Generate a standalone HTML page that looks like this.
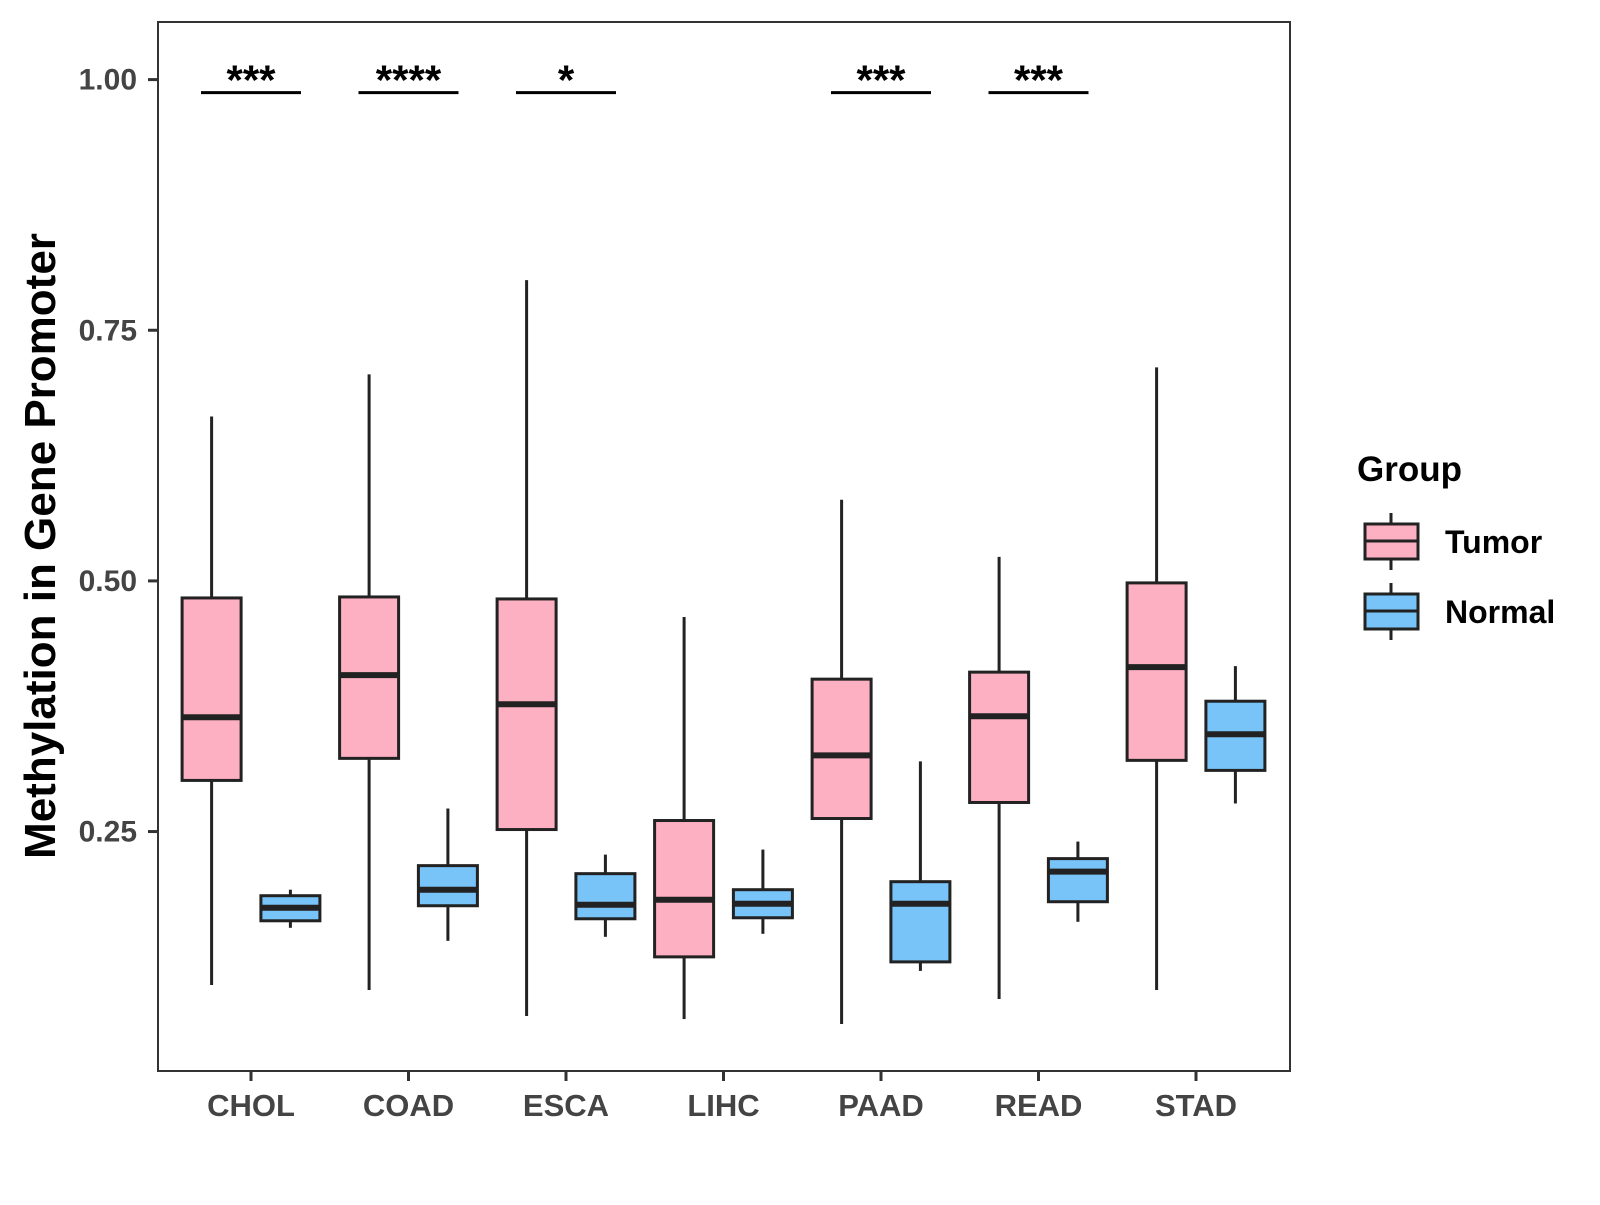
<!DOCTYPE html>
<html><head><meta charset="utf-8"><style>
html,body{margin:0;padding:0;background:#fff;}
svg text{font-family:"Liberation Sans",Arial,sans-serif;font-weight:bold;}
</style></head><body>
<svg id="chart" width="1600" height="1200" xmlns="http://www.w3.org/2000/svg">
<rect x="0" y="0" width="1600" height="1200" fill="#fff"/>
<g id="marks"></g>
<rect x="158" y="22" width="1132" height="1049" fill="none" stroke="#333" stroke-width="2"/>
<g id="axes"></g>
<text x="55" y="546" font-size="44" fill="#000" text-anchor="middle" transform="rotate(-90 55 546)">Methylation in Gene Promoter</text>
<g>
<text x="1357" y="481" font-size="35" fill="#000">Group</text>
<g>
<line x1="1391" y1="513" x2="1391" y2="570" stroke="#222" stroke-width="3"/>
<rect x="1365" y="524" width="53" height="35" fill="#FDB0C2" stroke="#222" stroke-width="3"/>
<line x1="1365" y1="541" x2="1418" y2="541" stroke="#222" stroke-width="3"/>
<text x="1445" y="553" font-size="32" fill="#000">Tumor</text>
</g>
<g>
<line x1="1391" y1="583" x2="1391" y2="640" stroke="#222" stroke-width="3"/>
<rect x="1365" y="594" width="53" height="35" fill="#78C3F7" stroke="#222" stroke-width="3"/>
<line x1="1365" y1="611" x2="1418" y2="611" stroke="#222" stroke-width="3"/>
<text x="1445" y="623" font-size="32" fill="#000">Normal</text>
</g>
</g>
</svg>
<script>
const categories = ["CHOL","COAD","ESCA","LIHC","PAAD","READ","STAD"];
// [low, q1, median, q3, high]
const tumorStats = [
 [0.097,0.301,0.364,0.483,0.664],
 [0.092,0.323,0.406,0.484,0.706],
 [0.066,0.252,0.377,0.482,0.800],
 [0.063,0.125,0.182,0.261,0.464],
 [0.058,0.263,0.326,0.402,0.581],
 [0.083,0.279,0.365,0.409,0.524],
 [0.092,0.321,0.414,0.498,0.713]
];
const normalStats = [
 [0.154,0.161,0.174,0.186,0.192],
 [0.141,0.176,0.192,0.216,0.273],
 [0.145,0.163,0.177,0.208,0.227],
 [0.148,0.164,0.178,0.192,0.232],
 [0.111,0.120,0.178,0.200,0.320],
 [0.160,0.180,0.210,0.223,0.240],
 [0.278,0.311,0.347,0.380,0.415]
];
const significance = ["***","****","*","","***","***",""];
const sigLevel = 0.987;
const yTicks = [0.25,0.50,0.75,1.00];
const yTickLabels = ["0.25","0.50","0.75","1.00"];

const NS="http://www.w3.org/2000/svg";
function y(v){return 79.6+(1-v)*1002.6;}
function x(i){return 251+i*157.5;}
const marks=document.getElementById('marks');
const axes=document.getElementById('axes');
function mk(tag,attrs,parent){const e=document.createElementNS(NS,tag);for(const k in attrs)e.setAttribute(k,attrs[k]);parent.appendChild(e);return e;}

function drawBox(cx,s,fill,name){
  const g=mk('g',{},marks);
  
  
  const w=59;
  mk('line',{x1:cx,x2:cx,y1:y(s[4]),y2:y(s[3]),stroke:'#222','stroke-width':3},g);
  mk('line',{x1:cx,x2:cx,y1:y(s[1]),y2:y(s[0]),stroke:'#222','stroke-width':3},g);
  mk('rect',{x:cx-w/2,y:y(s[3]),width:w,height:y(s[1])-y(s[3]),fill:fill,stroke:'#222','stroke-width':3},g);
  mk('line',{x1:cx-w/2,x2:cx+w/2,y1:y(s[2]),y2:y(s[2]),stroke:'#222','stroke-width':6},g);
}
categories.forEach((c,i)=>{
  drawBox(x(i)-39.4,tumorStats[i],'#FDB0C2','box-tumor-'+c.toLowerCase());
  drawBox(x(i)+39.4,normalStats[i],'#78C3F7','box-normal-'+c.toLowerCase());
  if(significance[i]){
    const g=mk('g',{},marks);
    
    
    mk('line',{x1:x(i)-50,x2:x(i)+50,y1:y(sigLevel),y2:y(sigLevel),stroke:'#000','stroke-width':3},g);
    const t=mk('text',{x:x(i),y:y(sigLevel)+2,'font-size':42,'text-anchor':'middle',fill:'#000'},g);
    t.textContent=significance[i];
  }
  mk('line',{x1:x(i),x2:x(i),y1:1071,y2:1081,stroke:'#333','stroke-width':3},axes);
  const t=mk('text',{x:x(i),y:1116,'font-size':31,'text-anchor':'middle',fill:'#444'},axes);
  
  
  t.textContent=c;
});
yTicks.forEach((v,i)=>{
  mk('line',{x1:148,x2:158,y1:y(v),y2:y(v),stroke:'#333','stroke-width':3},axes);
  const t=mk('text',{x:137,y:y(v)+10,'font-size':30,'text-anchor':'end',fill:'#444'},axes);
  
  
  t.textContent=yTickLabels[i];
});
</script>
</body></html>
